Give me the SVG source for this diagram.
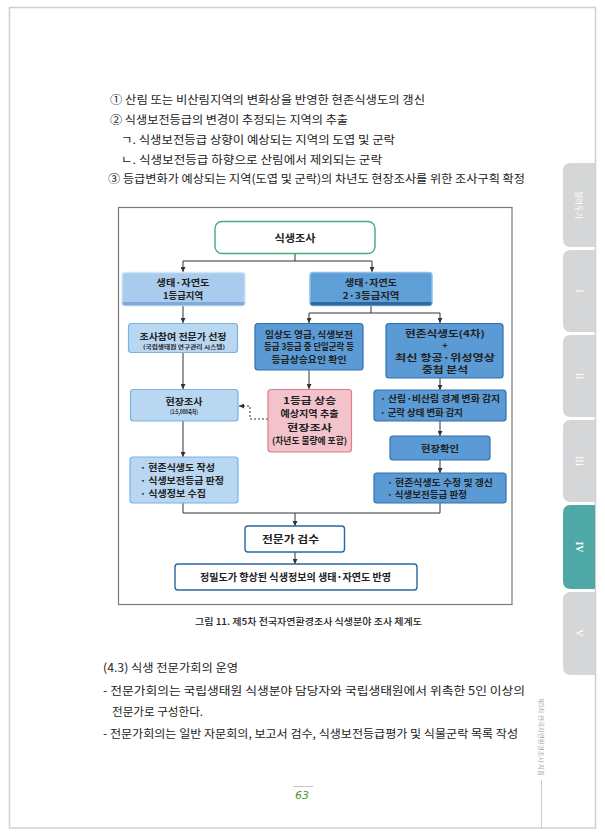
<svg xmlns="http://www.w3.org/2000/svg" width="605" height="840" viewBox="0 0 605 840">
<style>
text{font-family:"Noto Sans CJK KR","Noto Sans",sans-serif;fill:#222}
.body{font-size:11.5px}
.nb{font-size:9px;font-weight:bold;text-anchor:middle}
.nl{font-size:9px;font-weight:bold}
.sm{font-size:5.5px;font-weight:bold;text-anchor:middle}
.ttl{font-size:10.5px;font-weight:bold;text-anchor:middle}
.tab{fill:#d5d6d8}
.tabt{font-family:"Liberation Serif",serif;font-size:10px;fill:#fff;text-anchor:middle}
.lb{fill:#b9d7f1;stroke:#74b3e6;stroke-width:1.2}
.db{fill:#5b9bd5;stroke:#2f70ad;stroke-width:1.2}
.wb{fill:#fff;stroke:#2a679f;stroke-width:1.4}
.cn{fill:none;stroke:#333;stroke-width:1}
</style>
<defs>
<marker id="ah" viewBox="0 0 6 6" refX="6" refY="3" markerWidth="5" markerHeight="5" orient="auto" markerUnits="userSpaceOnUse">
<path d="M0,0 L6,3 L0,6 z" fill="#333"/>
</marker>
</defs>
<rect x="0" y="0" width="605" height="840" fill="#fff"/>
<rect x="9.5" y="7.5" width="586" height="820.5" fill="#fff" stroke="#d0d0d0" stroke-width="1.5"/>

<g id="tabs">
<path class="tab" d="M595,163 H571 Q563,163 563,171 V239 Q563,247 571,247 H595 Z"/>
<path class="tab" d="M595,250 H571 Q563,250 563,258 V324 Q563,332 571,332 H595 Z"/>
<path class="tab" d="M595,335 H571 Q563,335 563,343 V409 Q563,417 571,417 H595 Z"/>
<path class="tab" d="M595,420 H571 Q563,420 563,428 V494 Q563,502 571,502 H595 Z"/>
<path d="M595,505 H571 Q563,505 563,513 V581 Q563,589 571,589 H595 Z" fill="#4ea9a6"/>
<path class="tab" d="M595,592 H571 Q563,592 563,600 V667 Q563,675 571,675 H595 Z"/>
<text transform="translate(576,205) rotate(90)" style="font-size:7.5px;fill:#fff;text-anchor:middle">일러두기</text>
<text class="tabt" transform="translate(575.5,291) rotate(90)">I</text>
<text class="tabt" transform="translate(575.5,376) rotate(90)">II</text>
<text class="tabt" transform="translate(575.5,461) rotate(90)">III</text>
<text class="tabt" transform="translate(575.5,547) rotate(90)" style="font-weight:bold">IV</text>
<text class="tabt" transform="translate(575.5,633) rotate(90)">V</text>
</g>

<g id="top-text">
<text class="body" x="110" y="103.5" textLength="315" lengthAdjust="spacingAndGlyphs">① 산림 또는 비산림지역의 변화상을 반영한 현존식생도의 갱신</text>
<text class="body" x="110" y="124" textLength="238" lengthAdjust="spacingAndGlyphs">② 식생보전등급의 변경이 추정되는 지역의 추출</text>
<text class="body" x="121" y="144" textLength="274" lengthAdjust="spacingAndGlyphs">ㄱ. 식생보전등급 상향이 예상되는 지역의 도엽 및 군락</text>
<text class="body" x="121" y="163.5" textLength="261" lengthAdjust="spacingAndGlyphs">ㄴ. 식생보전등급 하향으로 산림에서 제외되는 군락</text>
<text class="body" x="108" y="182.5" textLength="417" lengthAdjust="spacingAndGlyphs">③ 등급변화가 예상되는 지역(도엽 및 군락)의 차년도 현장조사를 위한 조사구획 확정</text>
</g>

<rect id="frame" x="118.5" y="207.5" width="393.5" height="397" fill="none" stroke="#7a7a7a" stroke-width="1.2"/>

<g id="connectors">
<path class="cn" d="M295,254 V261 M183,261 H372"/>
<path class="cn" d="M183,261 V272" marker-end="url(#ah)"/>
<path class="cn" d="M372,261 V272" marker-end="url(#ah)"/>
<path class="cn" d="M183,306 V323" marker-end="url(#ah)"/>
<path class="cn" d="M183,353 V389" marker-end="url(#ah)"/>
<path class="cn" d="M183,421 V457" marker-end="url(#ah)"/>
<path class="cn" d="M371,306 V313 M309,313 H440"/>
<path class="cn" d="M309,313 V323" marker-end="url(#ah)"/>
<path class="cn" d="M440,313 V323" marker-end="url(#ah)"/>
<path class="cn" d="M309,370 V389" marker-end="url(#ah)"/>
<path class="cn" d="M440,378 V390" marker-end="url(#ah)"/>
<path class="cn" d="M440,421 V436" marker-end="url(#ah)"/>
<path class="cn" d="M440,460 V473" marker-end="url(#ah)"/>
<path class="cn" d="M183,503 V513 H440 V503"/>
<path class="cn" d="M295,513 V526" marker-end="url(#ah)"/>
<path class="cn" d="M295,552 V564" marker-end="url(#ah)"/>
<path class="cn" d="M268,419 H250 V406 H239" stroke-dasharray="2,2" marker-end="url(#ah)"/>
</g>

<g id="n-survey">
<rect x="215" y="221.5" width="160" height="32" rx="7" fill="#fff" stroke="#3fae7c" stroke-width="1.4"/>
<text class="ttl" x="295" y="241.5" textLength="41" lengthAdjust="spacingAndGlyphs">식생조사</text>
</g>

<g id="n-grade1">
<rect x="122" y="272.5" width="123" height="33" rx="3" fill="#a9cbed" stroke="#d3e6f7" stroke-width="1.5"/>
<path d="M122.5,302 H244.5 V303 Q244.5,305.5 242,305.5 H125 Q122.5,305.5 122.5,303 Z" fill="#7eabda"/>
<text class="nb" x="183" y="286" textLength="53" lengthAdjust="spacingAndGlyphs">생태·자연도</text>
<text class="nb" x="183" y="298.5" textLength="40" lengthAdjust="spacingAndGlyphs">1등급지역</text>
</g>

<g id="n-grade23">
<rect x="310" y="272.5" width="122" height="33" rx="3" fill="#5f9fd8" stroke="#8dbde7" stroke-width="1.5"/>
<path d="M310.5,302 H431.5 V303 Q431.5,305.5 429,305.5 H313 Q310.5,305.5 310.5,303 Z" fill="#2f67a0"/>
<text class="nb" x="371" y="286" textLength="52" lengthAdjust="spacingAndGlyphs">생태·자연도</text>
<text class="nb" x="371" y="298.5" textLength="57" lengthAdjust="spacingAndGlyphs">2·3등급지역</text>
</g>

<g id="n-expert-select">
<rect class="lb" x="128.5" y="323.5" width="109" height="29" rx="3"/>
<text class="nb" x="183" y="340" textLength="87" lengthAdjust="spacingAndGlyphs" style="font-size:9.5px">조사참여 전문가 선정</text>
<text class="sm" x="184" y="349" textLength="82" lengthAdjust="spacingAndGlyphs">(국립생태원 연구관리 시스템)</text>
</g>

<g id="n-factor">
<rect class="db" x="255" y="323.5" width="108" height="46.5" rx="3"/>
<text class="nb" x="309" y="337.5" textLength="88" lengthAdjust="spacingAndGlyphs">임상도 영급, 식생보전</text>
<text class="nb" x="309" y="350" textLength="90" lengthAdjust="spacingAndGlyphs">등급 3등급 중 단일군락 등</text>
<text class="nb" x="309" y="362.5" textLength="75" lengthAdjust="spacingAndGlyphs">등급상승요인 확인</text>
</g>

<g id="n-overlay">
<rect class="db" x="386" y="323.5" width="117" height="54.5" rx="3"/>
<text class="nb" x="445" y="336.5" textLength="80" lengthAdjust="spacingAndGlyphs">현존식생도(4차)</text>
<text class="nb" x="445" y="348.5">+</text>
<text class="nb" x="445" y="360.5" textLength="100" lengthAdjust="spacingAndGlyphs">최신 항공·위성영상</text>
<text class="nb" x="445" y="372.5" textLength="46" lengthAdjust="spacingAndGlyphs">중첩 분석</text>
</g>

<g id="n-field">
<rect class="lb" x="130.5" y="389.5" width="107.5" height="31.5" rx="3"/>
<text class="nb" x="184" y="404.5" textLength="37" lengthAdjust="spacingAndGlyphs" style="font-size:9.5px">현장조사</text>
<text class="sm" x="184" y="413.5" textLength="28" lengthAdjust="spacingAndGlyphs">(1:5,000축척)</text>
</g>

<g id="n-upgrade">
<rect x="268" y="389.5" width="83.5" height="62.5" rx="3" fill="#f3c3cb" stroke="#e07b8c" stroke-width="1.2"/>
<text class="nb" x="309.5" y="403.5" textLength="53" lengthAdjust="spacingAndGlyphs">1등급 상승</text>
<text class="nb" x="309.5" y="417" textLength="58" lengthAdjust="spacingAndGlyphs">예상지역 추출</text>
<text class="nb" x="309.5" y="430.5" textLength="45" lengthAdjust="spacingAndGlyphs">현장조사</text>
<text class="nb" x="309.5" y="444" textLength="75" lengthAdjust="spacingAndGlyphs">(차년도 물량에 포함)</text>
</g>

<g id="n-detect">
<rect class="db" x="374" y="390" width="132" height="31" rx="3"/>
<text class="nl" x="380" y="402" textLength="120" lengthAdjust="spacingAndGlyphs">· 산림·비산림 경계 변화 감지</text>
<text class="nl" x="380" y="415.5" textLength="83" lengthAdjust="spacingAndGlyphs">· 군락 상태 변화 감지</text>
</g>

<g id="n-confirm">
<rect class="db" x="390" y="436" width="100" height="24" rx="3"/>
<text class="nb" x="440" y="451.5" textLength="38" lengthAdjust="spacingAndGlyphs" style="font-size:9.5px">현장확인</text>
</g>

<g id="n-left-result">
<rect class="lb" x="130" y="457" width="108" height="46" rx="3"/>
<text class="nl" x="140" y="470.5" textLength="75" lengthAdjust="spacingAndGlyphs">· 현존식생도 작성</text>
<text class="nl" x="140" y="483.5" textLength="84" lengthAdjust="spacingAndGlyphs">· 식생보전등급 판정</text>
<text class="nl" x="140" y="496.5" textLength="66" lengthAdjust="spacingAndGlyphs">· 식생정보 수집</text>
</g>

<g id="n-right-result">
<rect class="db" x="374" y="473" width="132" height="30" rx="3"/>
<text class="nl" x="387" y="485.5" textLength="106" lengthAdjust="spacingAndGlyphs">· 현존식생도 수정 및 갱신</text>
<text class="nl" x="387" y="498" textLength="80" lengthAdjust="spacingAndGlyphs">· 식생보전등급 판정</text>
</g>

<g id="n-review">
<rect class="wb" x="245" y="526" width="99.5" height="26" rx="3"/>
<text class="ttl" x="290.5" y="542.5" textLength="57" lengthAdjust="spacingAndGlyphs">전문가 검수</text>
</g>

<g id="n-final">
<rect class="wb" x="175" y="564" width="242" height="26" rx="3"/>
<text class="nb" x="295.5" y="580.5" textLength="191" lengthAdjust="spacingAndGlyphs" style="font-size:10px">정밀도가 향상된 식생정보의 생태·자연도 반영</text>
</g>

<text id="caption" x="308.5" y="625" style="font-size:9.5px;font-weight:500;text-anchor:middle" textLength="227" lengthAdjust="spacingAndGlyphs">그림 11. 제5차 전국자연환경조사 식생분야 조사 체계도</text>

<g id="body-text">
<text class="body" x="103" y="672" textLength="135" lengthAdjust="spacingAndGlyphs">(4.3) 식생 전문가회의 운영</text>
<text class="body" x="103" y="695" textLength="422" lengthAdjust="spacingAndGlyphs">- 전문가회의는 국립생태원 식생분야 담당자와 국립생태원에서 위촉한 5인 이상의</text>
<text class="body" x="112" y="716" textLength="91" lengthAdjust="spacingAndGlyphs">전문가로 구성한다.</text>
<text class="body" x="103" y="738" textLength="415" lengthAdjust="spacingAndGlyphs">- 전문가회의는 일반 자문회의, 보고서 검수, 식생보전등급평가 및 식물군락 목록 작성</text>
</g>

<g id="footer">
<line x1="293" y1="786.5" x2="313" y2="786.5" stroke="#b5b5b5" stroke-width="0.8"/>
<text x="302" y="799" style="font-family:'DejaVu Sans',sans-serif;font-size:11px;font-style:italic;fill:#4f9a2f;text-anchor:middle">63</text>
<text transform="translate(539,737) rotate(90)" style="font-size:6px;fill:#a5a5a5;text-anchor:middle" textLength="78" lengthAdjust="spacingAndGlyphs">제5차 전국자연환경조사 지침</text>
<line x1="541.5" y1="780" x2="541.5" y2="828" stroke="#c0c0c0" stroke-width="0.8"/>
</g>
</svg>
